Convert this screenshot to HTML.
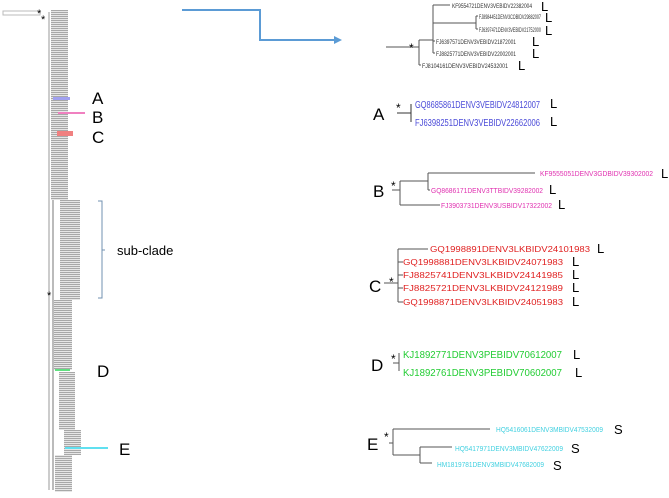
<!DOCTYPE html>
<html><head><meta charset="utf-8"><style>
html,body{margin:0;padding:0;background:#fff;}
svg{display:block;}
text{font-family:"Liberation Sans",sans-serif;}
.lab{font-size:13px;fill:#000;}
.big{font-size:17px;fill:#000;}
</style></head><body>
<svg width="669" height="498" viewBox="0 0 669 498" xmlns="http://www.w3.org/2000/svg">
<defs>
<pattern id="p" width="4" height="2" patternUnits="userSpaceOnUse">
<rect width="4" height="2" fill="#e6e6e6"/><rect width="4" height="1" fill="#a8a8a8"/>
</pattern>
</defs>
<rect x="3" y="11" width="37" height="4" fill="none" stroke="#bbb" stroke-width="1"/>
<text x="37" y="17" font-size="11">*</text>
<text x="41" y="23" font-size="11">*</text>
<line x1="49" y1="12" x2="49" y2="490" stroke="#999" stroke-width="1"/>
<line x1="53" y1="196" x2="53" y2="490" stroke="#777" stroke-width="1"/>
<rect x="51" y="10" width="17" height="190" fill="url(#p)"/>
<rect x="60" y="200" width="20" height="100" fill="url(#p)"/>
<rect x="54" y="300" width="18" height="70" fill="url(#p)"/>
<rect x="59" y="372" width="16" height="58" fill="url(#p)"/>
<rect x="64" y="430" width="17" height="25" fill="url(#p)"/>
<rect x="55" y="455" width="17" height="37" fill="url(#p)"/>
<text x="47" y="299" font-size="11">*</text>
<rect x="53" y="97" width="17" height="3" fill="#a0a0f0"/>
<rect x="58" y="112" width="27" height="2" fill="#f080c0"/>
<rect x="57" y="131" width="16" height="5" fill="#f08080"/>
<rect x="55" y="369" width="15" height="2" fill="#60e080"/>
<line x1="65" y1="448" x2="108" y2="448" stroke="#60e0f0" stroke-width="2"/>
<text x="92" y="104" class="big">A</text>
<text x="92" y="123" class="big">B</text>
<text x="92" y="143" class="big">C</text>
<text x="97" y="377" class="big">D</text>
<text x="119" y="455" class="big">E</text>
<path d="M98 201 H102 V298 H98 M102 250 H105" fill="none" stroke="#7090b0" stroke-width="1"/>
<text x="117" y="255" class="lab">sub-clade</text>
<path d="M182 10 H260 V40 H334" fill="none" stroke="#5b9bd5" stroke-width="2"/>
<polygon points="334,36 342,40 334,44" fill="#5b9bd5"/>
<g stroke="#555" stroke-width="1" fill="none">
<path d="M386 47 H419 M419 40 V65 M419 40 H433 M433 5 V53 M433 5 H450 M433 23 H476 M476 16 V29 M476 16 H478 M476 29 H478 M433 41 H435 M433 53 H435 M419 65 H421"/>
</g>
<g font-size="6.5" fill="#333">
<text x="452" y="8" textLength="80" lengthAdjust="spacingAndGlyphs">KF9554721DENV3VEBIDV22382004</text>
<text x="479" y="19" textLength="62" lengthAdjust="spacingAndGlyphs">FJ8984451DENV3COBIDV29882007</text>
<text x="479" y="32" textLength="62" lengthAdjust="spacingAndGlyphs">FJ6397471DENV3VEBIDV21752000</text>
<text x="436" y="44" textLength="80" lengthAdjust="spacingAndGlyphs">FJ6397571DENV3VEBIDV21872001</text>
<text x="436" y="56" textLength="80" lengthAdjust="spacingAndGlyphs">FJ8825771DENV3VEBIDV22002001</text>
<text x="422" y="68" textLength="86" lengthAdjust="spacingAndGlyphs">FJ8104161DENV3VEBIDV24532001</text>
</g>
<text x="409" y="52" font-size="12">*</text>
<g class="lab"><text x="541" y="11">L</text><text x="545" y="22">L</text><text x="545" y="35">L</text><text x="532" y="46">L</text><text x="532" y="58">L</text><text x="518" y="70">L</text></g>
<text x="373" y="120" class="big">A</text>
<text x="396" y="112" font-size="12">*</text>
<path d="M397 113 H411 M411 104 V122" stroke="#333" fill="none"/>
<g font-size="10" fill="#4a4ad8"><text x="415" y="108" textLength="125" lengthAdjust="spacingAndGlyphs">GQ8685861DENV3VEBIDV24812007</text><text x="415" y="126" textLength="125" lengthAdjust="spacingAndGlyphs">FJ6398251DENV3VEBIDV22662006</text></g>
<g class="lab"><text x="550" y="108">L</text><text x="550" y="126">L</text></g>
<text x="373" y="197" class="big">B</text>
<text x="391" y="190" font-size="12">*</text>
<path d="M392 190 H400 M400 181 V205 M400 181 H428 M428 173 V190 M428 173 H535 M428 190 H430 M400 205 H440" stroke="#555" fill="none"/>
<g font-size="7.5" fill="#e030b0"><text x="540" y="176" textLength="113" lengthAdjust="spacingAndGlyphs">KF9555051DENV3GDBIDV39302002</text><text x="431" y="193" textLength="112" lengthAdjust="spacingAndGlyphs">GQ8686171DENV3TTBIDV39282002</text><text x="441" y="208" textLength="111" lengthAdjust="spacingAndGlyphs">FJ3903731DENV3USBIDV17322002</text></g>
<g class="lab"><text x="661" y="178">L</text><text x="549" y="194">L</text><text x="558" y="209">L</text></g>
<text x="369" y="292" class="big">C</text>
<text x="389" y="286" font-size="12">*</text>
<path d="M384 283 H398 M398 249 V302 M398 249 H428 M398 262 H403 M398 275 H403 M398 288 H403 M398 302 H403" stroke="#555" fill="none"/>
<g font-size="8.5" fill="#e02020"><text x="430" y="252" textLength="160" lengthAdjust="spacingAndGlyphs">GQ1998891DENV3LKBIDV24101983</text><text x="403" y="265" textLength="160" lengthAdjust="spacingAndGlyphs">GQ1998881DENV3LKBIDV24071983</text><text x="403" y="278" textLength="160" lengthAdjust="spacingAndGlyphs">FJ8825741DENV3LKBIDV24141985</text><text x="403" y="291" textLength="160" lengthAdjust="spacingAndGlyphs">FJ8825721DENV3LKBIDV24121989</text><text x="403" y="305" textLength="160" lengthAdjust="spacingAndGlyphs">GQ1998871DENV3LKBIDV24051983</text></g>
<g class="lab"><text x="597" y="253">L</text><text x="572" y="266">L</text><text x="572" y="279">L</text><text x="572" y="292">L</text><text x="572" y="306">L</text></g>
<text x="371" y="371" class="big">D</text>
<text x="391" y="363" font-size="12">*</text>
<path d="M393 363 H399 M399 353 V371" stroke="#555" fill="none"/>
<g font-size="10" fill="#22cc33"><text x="403" y="358" textLength="159" lengthAdjust="spacingAndGlyphs">KJ1892771DENV3PEBIDV70612007</text><text x="403" y="376" textLength="159" lengthAdjust="spacingAndGlyphs">KJ1892761DENV3PEBIDV70602007</text></g>
<g class="lab"><text x="573" y="359">L</text><text x="575" y="377">L</text></g>
<text x="367" y="450" class="big">E</text>
<text x="384" y="441" font-size="12">*</text>
<path d="M389 443 H393 M393 429 V455 M393 429 H490 M393 455 H420 M420 447 V463 M420 447 H452 M420 463 H432" stroke="#555" fill="none"/>
<g font-size="7.5" fill="#40d0e0"><text x="496" y="432" textLength="107" lengthAdjust="spacingAndGlyphs">HQ5416061DENV3MBIDV47532009</text><text x="455" y="451" textLength="108" lengthAdjust="spacingAndGlyphs">HQ5417971DENV3MBIDV47622009</text><text x="437" y="467" textLength="107" lengthAdjust="spacingAndGlyphs">HM1819781DENV3MBIDV47682009</text></g>
<g class="lab"><text x="614" y="434">S</text><text x="571" y="453">S</text><text x="553" y="470">S</text></g>
</svg>
</body></html>
